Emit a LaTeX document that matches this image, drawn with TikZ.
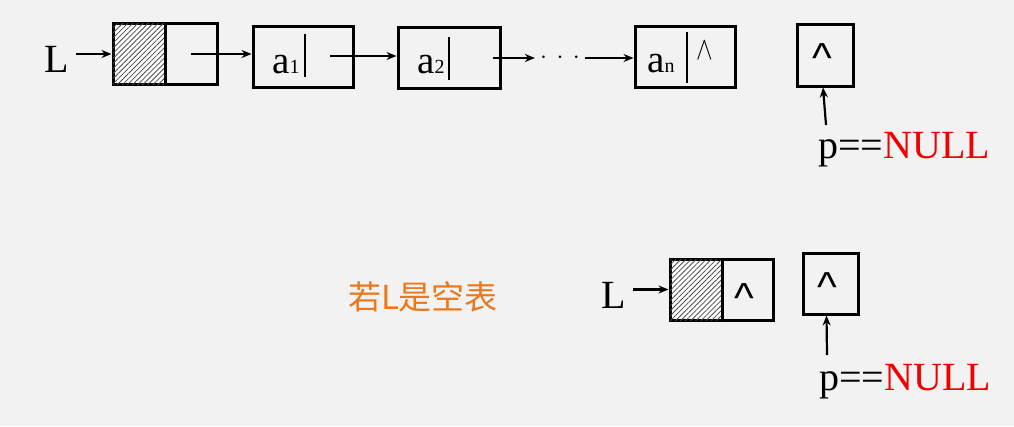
\documentclass[tikz,border=0pt]{standalone}
\usepackage{xcolor}
\usepackage{graphicx}
\usepackage{fontspec}
\setmainfont{Liberation Serif}
\newfontfamily\cjk{Noto Sans CJK SC}
\newfontfamily\caretfont{Liberation Sans}
\usepackage{tikz}
\usetikzlibrary{arrows.meta, patterns.meta}
\definecolor{bgray}{RGB}{242,242,242}
\definecolor{hintorange}{RGB}{234,120,30}
\definecolor{nullred}{RGB}{240,0,0}
\newcommand{\sub}[1]{{\fontsize{20}{20}\selectfont #1}}

\begin{document}
\begin{tikzpicture}[x=1pt, y=-1pt,
    cell/.style={draw, line width=3pt, minimum height=61pt, inner sep=0pt},
    hatched/.style={cell, fill=white, postaction={pattern={Lines[angle=45, distance=3.6pt, line width=0.8pt]}, pattern color=black!70}},
    ptr/.style={line width=2.2pt, -{Stealth[length=10pt, width=8pt]}},
    lab/.style={font=\fontsize{40}{40}\selectfont, inner sep=1pt},
    val/.style={font=\fontsize{39}{39}\selectfont, inner sep=0pt, anchor=base west},
    caret/.style={font=\caretfont\fontsize{42}{42}\selectfont, inner sep=0pt},
    bar/.style={line width=2.6pt}]
    % Page
    \fill[bgray] (0,0) rectangle (1014,426);
    \useasboundingbox (0,0) rectangle (1014,426);

    % Head node of the list
    \node[lab] (Ltop) at (57,59) {L};
    \node[hatched, minimum width=52pt] (headl) at (139,54) {};
    \node[cell, minimum width=52pt] (headr) at (191,54) {};

    % Data nodes
    \node[cell, minimum width=100pt] (a1) at (303,56.5) {};
    \node[val] (a1v) at (272,73) {a\sub{1}};
    \draw[bar] (305,34) -- (305,77);
    \coordinate (a1p) at (330,56);

    \node[cell, minimum width=102pt] (a2) at (449,58) {};
    \node[val] (a2v) at (417,73) {a\sub{2}};
    \draw[bar] (449,37) -- (449,80);
    \coordinate (a2p) at (493,58);

    \node[font=\fontsize{24}{24}\selectfont, inner sep=0pt] (dots) at (560,58) {$\cdot\hspace{4pt}\cdot\hspace{4pt}\cdot$};

    \node[cell, minimum width=100pt] (an) at (685,57) {};
    \node[val] (anv) at (647,72) {a\sub{n}};
    \draw[bar] (687,32) -- (687,83);
    \node[font=\fontsize{28}{28}\selectfont, inner sep=0pt] (annull) at (705,51) {\scalebox{1}[1.3]{$\wedge$}};

    % Links
    \draw[ptr, shorten <=6pt] (Ltop.east |- headl.west) -- (headl.west);
    \draw[ptr] (headr.center) -- (headr.center -| a1.west);
    \draw[ptr] (a1p) -- (a1p -| a2.west);
    \draw[ptr, shorten >=5pt] (a2p) -- (dots.west);
    \draw[ptr, shorten <=5pt] (dots.east) -- (dots.east -| an.west);

    % p after the last node
    \node[cell, minimum width=56pt, minimum height=62pt] (ptop) at (825,55) {};
    \node[caret] (ptopv) at (822,58.5) {\textasciicircum};
    \node[lab, anchor=base west] (pnull1) at (817,158) {p==\textcolor{nullred}{NULL}};
    \coordinate (ptail1) at (826,125);
    \draw[ptr] (ptail1) -- ([xshift=-2pt]ptop.south);

    % Empty list
    \node[font=\cjk\fontsize{33}{33}\selectfont, text=hintorange] (empty) at (423,297) {若L是空表};

    \node[lab] (Lbot) at (614,295) {L};
    \node[hatched, minimum width=52pt] (headl2) at (696,289.5) {};
    \node[cell, minimum width=51pt] (headr2) at (747.5,289.5) {};
    \node[caret] (headr2v) at (744,298) {\textasciicircum};
    \draw[ptr, shorten <=6pt] (Lbot.east |- headl2.west) -- (headl2.west);

    \node[cell, minimum width=55pt] (pbot) at (830.5,283.5) {};
    \node[caret] (pbotv) at (827.5,287) {\textasciicircum};
    \node[lab, anchor=base west] (pnull2) at (818,390) {p==\textcolor{nullred}{NULL}};
    \coordinate (ptail2) at (827,355);
    \draw[ptr] (ptail2) -- ([xshift=-4pt]pbot.south);
\end{tikzpicture}
\end{document}
